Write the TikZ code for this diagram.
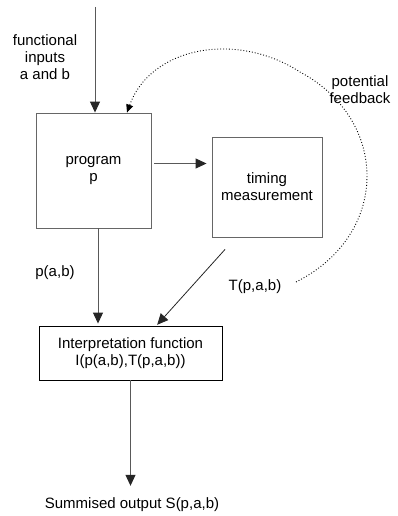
\documentclass[tikz,border=0pt]{standalone}
\usepackage{fontspec}
\setmainfont{Liberation Sans}
\usetikzlibrary{arrows.meta}
\begin{document}
\begin{tikzpicture}[x=1pt, y=-1pt,
        every node/.style={font=\fontsize{15}{17}\selectfont, align=center},
        box/.style={rectangle, draw=black!60, line width=0.9pt, inner sep=0pt},
        lbl/.style={inner sep=0pt},
        line/.style={draw=black!65, line width=1pt, -{Triangle[length=11pt, width=10pt, color=black!85]}},
        fb/.style={draw=black, line width=0.9pt, dotted, -{Triangle[length=8pt, width=7pt]}}
    ]
        \useasboundingbox (0,0) rectangle (398,516);

        \node[box, minimum width=115pt, minimum height=115pt] (prog) at (93.5, 170.5) {program\\p};
        \node[box, minimum width=110pt, minimum height=100pt] (timing) at (267, 187) {timing\\measurement};
        \node[box, draw=black, minimum width=183pt, minimum height=54pt] (interp) at (130.5, 353) {Interpretation function\\I(p(a,b),T(p,a,b))};

        \node[lbl] (inlbl) at (45, 57) {functional\\inputs\\a and b};
        \node[lbl] (fblbl) at (360, 90) {potential\\feedback};
        \node[lbl] (plbl) at (55, 273) {p(a,b)};
        \node[lbl] (tlbl) at (255, 287) {T(p,a,b)};
        \node[lbl] (out) at (132, 505) {Summised output S(p,a,b)};

        \coordinate (instart) at (95, 7);
        \coordinate (fbstart) at (296, 282);
        \coordinate (fbmid) at (300, 72);

        \draw[line] (instart) -- (instart |- prog.north);
        \draw[line, shorten <=3pt, shorten >=5pt] ([yshift=7pt]prog.east) -- ([yshift=7pt]prog.east -| timing.west);
        \draw[line, shorten >=2pt] ([xshift=4.5pt]prog.south) -- ([xshift=4.5pt]prog.south |- interp.north);
        \draw[line, draw=black!85, line width=0.8pt, shorten >=1pt] ([xshift=-42pt, yshift=-12pt]timing.south) -- ([xshift=26pt]interp.north);
        \draw[line, shorten >=12pt] (interp.south) -- (interp.south |- out.north);

        \draw[fb] (fbstart) .. controls (390,235) and (390,120) .. (fbmid)
            .. controls (235,30) and (150,48) .. ([xshift=33.5pt]prog.north);
    \end{tikzpicture}
\end{document}
